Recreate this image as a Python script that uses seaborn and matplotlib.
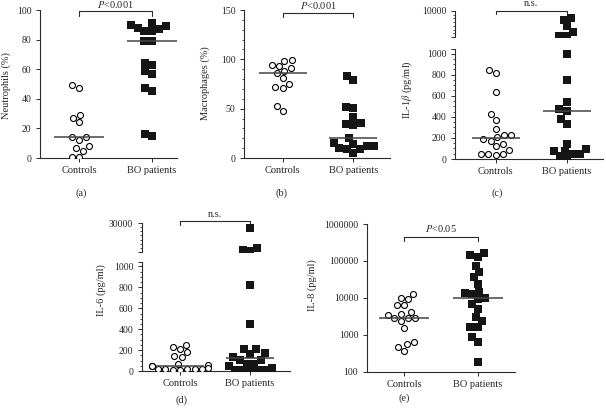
import matplotlib
matplotlib.use("Agg")
import numpy as np
import pandas as pd
import matplotlib.pyplot as plt
import seaborn as sns

# groups and values
groups = ["Controls", "BO patients"]

neut_ctrl = [49, 47, 29, 27, 24, 14, 14, 12, 8, 7, 5, 1, 1]
neut_bo = [88, 90, 91, 89, 86, 86, 87, 79, 79, 63, 64, 57, 59, 47, 45, 15, 16]

macro_ctrl = [98, 93, 91, 94, 99, 88, 86, 81, 75, 72, 71, 53, 48]
macro_bo = [79, 83, 52, 51, 42, 35, 33, 34, 20, 12, 9, 15, 14, 5, 12, 9, 10]

il1b_ctrl = [842, 818, 635, 422, 368, 225, 204, 225, 283, 185, 146, 119, 167, 88, 43, 36, 43, 43]
il1b_bo = [7700, 8100, 5900, 4400, 3400, 3400, 994, 751, 538, 471, 456, 377, 331,
           143, 76, 52, 91, 76, 27, 52, 3]

il6_ctrl = [246, 233, 209, 178, 147, 132, 71, 60, 49, 49, 30, 15, 15, 15, 15, 15, 10, 5]
il6_bo = [25100, 5300, 3700, 3000, 822, 448, 209, 209, 168, 163, 130, 110, 108,
          71, 71, 50, 30, 9, 9, 9, 9, 9]

il8_ctrl = [13000, 9700, 9300, 6400, 6400, 4200, 3600, 3400, 2800, 2800, 2800,
            2300, 1550, 630, 560, 470, 370]
il8_bo = [161000, 142000, 131000, 74000, 49500, 36000, 24300, 14800, 13300, 12700,
          10000, 9300, 6800, 5000, 2970, 2320, 1630, 1630, 850, 650, 183]

sns.set_style("ticks")
plt.rcParams["font.family"] = ["Liberation Serif", "DejaVu Serif"]
plt.rcParams["mathtext.fontset"] = "stix"
plt.rcParams["font.size"] = 7

INK = "#2b2b2b"
W, H = 606, 411
fig = plt.figure(figsize=(W / 100, H / 100), dpi=100)


def box(x0, x1, ytop, ybot):
    return [x0 / W, 1 - ybot / H, (x1 - x0) / W, (ybot - ytop) / H]


def draw_points(ax, ctrl, bo, vmin=-np.inf, vmax=np.inf):
    # only the values that fall inside this axes segment are drawn here
    c = [v for v in ctrl if vmin <= v <= vmax]
    b = [v for v in bo if vmin <= v <= vmax]
    df = pd.DataFrame({"group": ["Controls"] * len(c) + ["BO patients"] * len(b),
                       "value": c + b})
    if c:
        sns.swarmplot(data=df[df.group == "Controls"], x="group", y="value", order=groups,
                      ax=ax, marker="o", size=4.3, color="white", edgecolor="black",
                      linewidth=0.8)
    if b:
        sns.swarmplot(data=df[df.group == "BO patients"], x="group", y="value", order=groups,
                      ax=ax, marker="s", size=5.2, color="#151515", linewidth=0)
    ax.hlines([np.median(ctrl), np.median(bo)], [-0.34, 0.66], [0.34, 1.34],
              color="#444444", lw=1.1, zorder=3)
    ax.set_xlabel("")
    ax.set_ylabel("")


def style(ax, xlim, xaxis=True):
    ax.set_xlim(*xlim)
    for s in ax.spines.values():
        s.set_color(INK)
        s.set_linewidth(0.8)
    sns.despine(ax=ax, bottom=not xaxis)
    ax.tick_params(axis="y", which="major", length=2.6, width=0.7, color=INK, pad=3.5,
                   labelsize=7)
    ax.tick_params(axis="y", which="minor", length=1.5, width=0.6, color=INK)
    if xaxis:
        ax.set_xticks([0, 1], groups)
        ax.tick_params(axis="x", length=3, width=0.7, color=INK, pad=3, labelsize=7.5)
    else:
        ax.set_xticks([])


def bracket(ax, h, d, label, ty):
    ax.plot([0, 0, 1, 1], [h - d, h, h, h - d], color=INK, lw=0.8, clip_on=False)
    ax.text(0.5, ty, label, ha="center", va="center", fontsize=7.5)


# (a) neutrophils
ax = fig.add_axes(box(40, 177, 10, 158))
draw_points(ax, neut_ctrl, neut_bo)
ax.set_ylim(0, 100)
ax.set_yticks(range(0, 101, 20))
style(ax, (-0.534, 1.342))
bracket(ax, 99.4, 3.2, "$P$<0.001", 104)
ax.set_ylabel("Neutrophils (%)", fontsize=7.5)
ax.yaxis.set_label_coords(-0.215, 0.49)

# (b) macrophages
ax = fig.add_axes(box(244, 390, 10, 158))
draw_points(ax, macro_ctrl, macro_bo)
ax.set_ylim(0, 150)
ax.set_yticks(range(0, 151, 50))
ax.yaxis.set_minor_locator(plt.MultipleLocator(10))
style(ax, (-0.548, 1.52))
bracket(ax, 146.7, 3.5, "$P$<0.001", 155)
ax.set_ylabel("Macrophages (%)", fontsize=7.5)
ax.yaxis.set_label_coords(-0.233, 0.507)

# (c) IL-1beta, broken axis
lo = fig.add_axes(box(455, 603, 49.3, 159))
hi = fig.add_axes(box(455, 603, 11, 37))
draw_points(lo, il1b_ctrl, il1b_bo, vmax=1040)
draw_points(hi, il1b_ctrl, il1b_bo, vmin=1040)
lo.set_ylim(0, 1040)
lo.set_yticks(list(range(0, 1001, 200)) + [1040], [str(v) for v in range(0, 1001, 200)] + [""])
lo.yaxis.set_minor_locator(plt.FixedLocator(range(50, 1000, 50)))
hi.set_ylim(3000, 10000)
hi.set_yticks([3000, 10000], ["", "10000"])
hi.yaxis.set_minor_locator(plt.FixedLocator(range(4000, 10000, 1000)))
style(lo, (-0.573, 1.51))
style(hi, (-0.573, 1.51), xaxis=False)
bracket(hi, 10000, 800, "n.s.", 12100)
lo.set_ylabel("IL-1$\\beta$ (pg/ml)", fontsize=7.5)
lo.yaxis.set_label_coords(-0.28, 0.63)

# (d) IL-6, broken axis
lo = fig.add_axes(box(141.7, 290, 262.3, 371))
hi = fig.add_axes(box(141.7, 290, 223.3, 251.7))
draw_points(lo, il6_ctrl, il6_bo, vmax=1040)
draw_points(hi, il6_ctrl, il6_bo, vmin=1040)
lo.set_ylim(0, 1040)
lo.set_yticks(list(range(0, 1001, 200)) + [1040], [str(v) for v in range(0, 1001, 200)] + [""])
lo.yaxis.set_minor_locator(plt.FixedLocator(range(50, 1000, 50)))
hi.set_ylim(2000, 30000)
hi.set_yticks([2000, 30000], ["", "30000"])
hi.yaxis.set_minor_locator(plt.FixedLocator(range(6000, 30000, 4000)))
style(lo, (-0.547, 1.57))
style(hi, (-0.547, 1.57), xaxis=False)
bracket(hi, 32600, 4000, "n.s.", 38500)
lo.set_ylabel("IL-6 (pg/ml)", fontsize=7.5)
lo.yaxis.set_label_coords(-0.24, 0.745)

# (e) IL-8, log axis
ax = fig.add_axes(box(366.7, 515, 224, 371.7))
ax.set_yscale("log")
draw_points(ax, il8_ctrl, il8_bo)
ax.set_ylim(100, 1e6)
ticks = [100, 1000, 10000, 100000, 1000000]
ax.set_yticks(ticks, [str(t) for t in ticks])
ax.yaxis.set_minor_locator(plt.NullLocator())
style(ax, (-0.512, 1.51))
bracket(ax, 437000, 95000, "$P$<0.05", 736000)
ax.set_ylabel("IL-8 (pg/ml)", fontsize=7.5)
ax.yaxis.set_label_coords(-0.335, 0.587)

# panel letters
for lab, x, y in [("(a)", 81, 193), ("(b)", 282, 193), ("(c)", 497, 193),
                  ("(d)", 181, 400), ("(e)", 404, 398)]:
    fig.text(x / W, 1 - y / H, lab, ha="center", va="center", fontsize=7.5)

fig.savefig("out.png", dpi=100)
